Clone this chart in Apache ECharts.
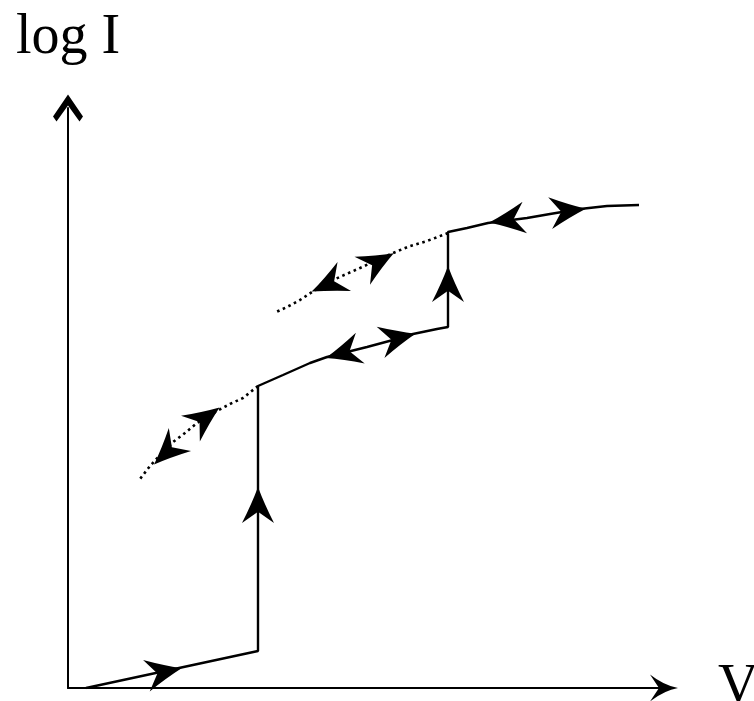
<!DOCTYPE html>
<html>
<head>
<meta charset="utf-8">
<script src="https://cdn.jsdelivr.net/npm/echarts@6/dist/echarts.min.js"></script>
<style>
html,body{margin:0;padding:0;background:#fff;}
#chart{width:754px;height:701px;}
</style>
</head>
<body>
<div id="chart"></div>
<script>
// Schematic I-V hysteresis (arbitrary units: V on x, log I on y)
var axisNames = ['V', 'log I'];

// Solid trace: ramp, jump up, lower branch, jump up, upper branch
var solidPath = [
  [18, 0], [190, 37], [190, 302], [215, 313], [242, 325], [259, 331],
  [299, 341], [325, 348], [345, 354], [369, 359], [380, 361], [380, 456],
  [399, 460], [420, 465], [459, 470], [482, 474], [512, 479], [539, 482], [571, 483]
];

// Dotted (unstable) extensions of the two branches
var dottedLower = [
  [190, 302], [175, 290], [162, 284], [149, 277], [129, 265], [117, 255],
  [105, 246], [92, 233], [82, 222], [72, 209]
];
var dottedUpper = [
  [380, 455], [359, 447], [342, 442], [325, 435], [292, 420], [265, 408],
  [244, 396], [232, 388], [219, 381], [206, 375]
];

// Direction arrows: [x, y, direction in degrees]
var arrows = [
  [96, 16, 12],
  [190, 183, 90],
  [137, 270, 36],
  [99, 236, -136],
  [275, 335, 196],
  [330, 350, 14],
  [380, 404, 90],
  [310, 426, 29],
  [260, 404, 205],
  [439, 468, 188],
  [500, 477, 7]
];

var arrowPath = 'path://M32,14 Q17,8.5 0,0 L10,14 L0,28 Q17,19.5 32,14 Z';
var xArrow = 'path://M13.5,0 Q16,14 27,28 L13.5,19 L0,28 Q11,14 13.5,0 Z';
var yArrow = 'path://M15,0 L30,22 L26.5,27 L15,11 L3.5,27 L0,22 Z';

var chart = echarts.init(document.getElementById('chart'), null, {renderer: 'canvas'});
var serif = 'Liberation Serif, Times New Roman, serif';

chart.setOption({
  animation: false,
  backgroundColor: '#fff',
  grid: {left: 68, top: 108, width: 596, height: 580, outerBoundsMode: 'none', containLabel: false},
  xAxis: {
    type: 'value', min: 0, max: 596,
    name: axisNames[0], nameLocation: 'end', nameGap: 54,
    nameTextStyle: {fontFamily: serif, fontSize: 56, color: '#000', padding: [0, 0, 14, 0]},
    axisLine: {show: true, lineStyle: {color: '#000', width: 2},
      symbol: ['none', xArrow], symbolSize: [27, 28]},
    axisTick: {show: false}, axisLabel: {show: false}, splitLine: {show: false}
  },
  yAxis: {
    type: 'value', min: 0, max: 580,
    name: axisNames[1], nameLocation: 'end', nameGap: 42,
    nameTextStyle: {fontFamily: serif, fontSize: 56, color: '#000'},
    axisLine: {show: true, lineStyle: {color: '#000', width: 2},
      symbol: ['none', yArrow], symbolSize: [30, 27]},
    axisTick: {show: false}, axisLabel: {show: false}, splitLine: {show: false}
  },
  series: [
    {type: 'line', data: solidPath, showSymbol: false, symbol: 'none',
      lineStyle: {color: '#000', width: 2.4}, silent: true},
    {type: 'line', data: dottedLower, showSymbol: false, symbol: 'none',
      lineStyle: {color: '#000', width: 2.6, type: [2.6, 3.6]}, silent: true},
    {type: 'line', data: dottedUpper, showSymbol: false, symbol: 'none',
      lineStyle: {color: '#000', width: 2.6, type: [2.6, 3.6]}, silent: true},
    {type: 'scatter', data: arrows, symbol: arrowPath, symbolSize: [36, 32],
      symbolRotate: function (v) { return v[2]; },
      itemStyle: {color: '#000', opacity: 1}, silent: true, z: 5}
  ]
});
</script>
</body>
</html>
